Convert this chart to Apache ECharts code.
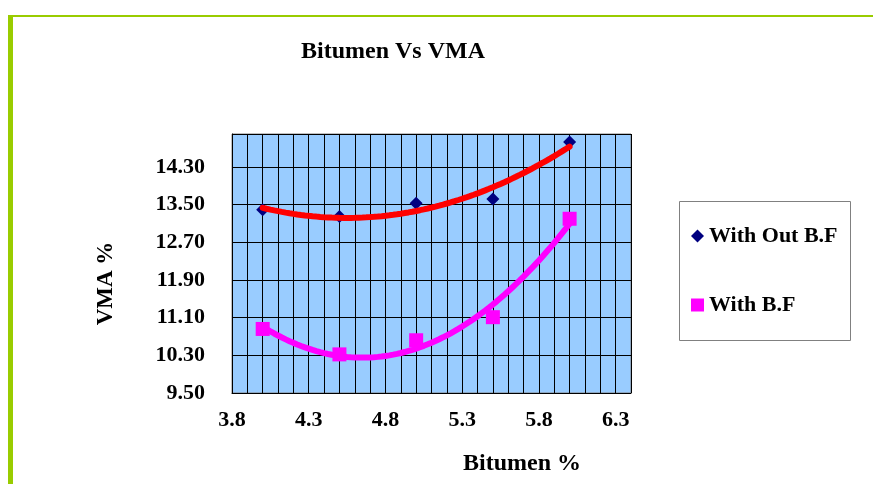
<!DOCTYPE html>
<html>
<head>
<meta charset="utf-8">
<script src="https://cdn.jsdelivr.net/npm/echarts@6/dist/echarts.min.js"></script>
<style>
  html, body { margin: 0; padding: 0; background: #fff; }
  #chart { width: 873px; height: 484px; }
</style>
</head>
<body>
<div id="chart"></div>
<script>
// Bitumen content (%) and measured VMA (%)
const bitumen = [4.0, 4.5, 5.0, 5.5, 6.0];
const vmaWithoutBF = [13.39, 13.25, 13.53, 13.62, 14.83];
const vmaWithBF = [10.86, 10.32, 10.62, 11.11, 13.20];
const seriesNames = ['With Out B.F', 'With B.F'];

// Labelled ticks on each axis
const xTickLabels = [3.8, 4.3, 4.8, 5.3, 5.8, 6.3];
const yTickLabels = [9.5, 10.3, 11.1, 11.9, 12.7, 13.5, 14.3];

const FONT = "'Liberation Serif', 'Times New Roman', serif";

// Second-order polynomial least-squares trendline through the measured points
function quadraticFit(xs, ys) {
  const n = xs.length;
  const mx = xs.reduce((s, v) => s + v, 0) / n;
  const S = [0, 0, 0, 0, 0], T = [0, 0, 0];
  for (let i = 0; i < n; i++) {
    const t = xs[i] - mx;
    for (let k = 0; k <= 4; k++) S[k] += Math.pow(t, k);
    for (let k = 0; k <= 2; k++) T[k] += ys[i] * Math.pow(t, k);
  }
  const A = [[S[0], S[1], S[2], T[0]], [S[1], S[2], S[3], T[1]], [S[2], S[3], S[4], T[2]]];
  for (let c = 0; c < 3; c++) {
    for (let r = c + 1; r < 3; r++) {
      const f = A[r][c] / A[c][c];
      for (let k = c; k < 4; k++) A[r][k] -= f * A[c][k];
    }
  }
  const coef = [0, 0, 0];
  for (let r = 2; r >= 0; r--) {
    let s = A[r][3];
    for (let k = r + 1; k < 3; k++) s -= A[r][k] * coef[k];
    coef[r] = s / A[r][r];
  }
  return x => { const t = x - mx; return coef[0] + coef[1] * t + coef[2] * t * t; };
}

function trendPoints(xs, ys) {
  const f = quadraticFit(xs, ys);
  const x0 = xs[0], x1 = xs[xs.length - 1], steps = 80;
  const pts = [];
  for (let i = 0; i <= steps; i++) {
    const x = x0 + (x1 - x0) * i / steps;
    pts.push([x, f(x)]);
  }
  return pts;
}

const isLabelled = (list, v) => list.some(t => Math.abs(t - v) < 1e-6);

const chart = echarts.init(document.getElementById('chart'), null, { renderer: 'canvas' });

chart.setOption({
  animation: false,
  backgroundColor: '#ffffff',
  title: {
    text: 'Bitumen Vs VMA',
    left: 301,
    top: 40,
    padding: 0,
    textStyle: { fontFamily: FONT, fontWeight: 'bold', fontSize: 24, color: '#000' }
  },
  graphic: [
    { type: 'rect', shape: { x: 8, y: 15, width: 5, height: 480 }, style: { fill: '#99CC00' }, silent: true },
    { type: 'rect', shape: { x: 8, y: 15, width: 870, height: 2 }, style: { fill: '#99CC00' }, silent: true },
    { type: 'rect', shape: { x: 679.5, y: 201.5, width: 171, height: 139 }, style: { fill: '#fff', stroke: '#808080', lineWidth: 1 }, silent: true, z: -1 }
  ],
  legend: {
    data: seriesNames,
    orient: 'vertical',
    left: 691,
    top: 224,
    padding: 0,
    itemWidth: 13,
    itemHeight: 13,
    itemGap: 45,
    textStyle: { fontFamily: FONT, fontWeight: 'bold', fontSize: 22, color: '#000', lineHeight: 24 }
  },
  grid: {
    left: 232, top: 134, width: 399, height: 259,
    show: true,
    backgroundColor: '#99CCFF',
    borderColor: '#808080',
    borderWidth: 1
  },
  xAxis: {
    type: 'value',
    min: 3.8,
    max: 6.4,
    interval: 0.1,
    name: 'Bitumen %',
    nameLocation: 'middle',
    nameGap: 59,
    nameTextStyle: { fontFamily: FONT, fontWeight: 'bold', fontSize: 24, color: '#000', padding: [0, 0, 0, 181] },
    axisLine: { show: true, lineStyle: { color: '#000', width: 1 } },
    axisTick: { show: false },
    splitLine: { show: true, lineStyle: { color: '#000', width: 1 } },
    axisLabel: {
      margin: 16,
      fontFamily: FONT, fontWeight: 'bold', fontSize: 22, color: '#000',
      formatter: v => isLabelled(xTickLabels, v) ? v.toFixed(1) : ''
    }
  },
  yAxis: {
    type: 'value',
    min: 9.5,
    max: 15.0,
    interval: 0.8,
    name: 'VMA %',
    nameLocation: 'middle',
    nameRotate: 90,
    nameGap: 114,
    nameTextStyle: { fontFamily: FONT, fontWeight: 'bold', fontSize: 23, color: '#000', padding: [0, 40, 0, 0] },
    axisLine: { show: true, lineStyle: { color: '#000', width: 1 } },
    axisTick: { show: false },
    splitLine: { show: true, lineStyle: { color: '#000', width: 1 } },
    axisLabel: {
      margin: 27,
      fontFamily: FONT, fontWeight: 'bold', fontSize: 22, color: '#000',
      formatter: v => isLabelled(yTickLabels, v) ? v.toFixed(2) : ''
    }
  },
  series: [
    {
      name: seriesNames[0],
      type: 'scatter',
      symbol: 'diamond',
      symbolSize: 13,
      itemStyle: { color: '#000080', opacity: 1 },
      data: bitumen.map((x, i) => [x, vmaWithoutBF[i]]),
      z: 2
    },
    {
      name: seriesNames[1],
      type: 'scatter',
      symbol: 'rect',
      symbolSize: 14,
      itemStyle: { color: '#FF00FF', opacity: 1 },
      data: bitumen.map((x, i) => [x, vmaWithBF[i]]),
      z: 2
    },
    {
      name: 'trend-without',
      type: 'line',
      showSymbol: false,
      silent: true,
      lineStyle: { color: '#FF0000', width: 6, cap: 'round' },
      data: trendPoints(bitumen, vmaWithoutBF),
      z: 3
    },
    {
      name: 'trend-with',
      type: 'line',
      showSymbol: false,
      silent: true,
      lineStyle: { color: '#FF00FF', width: 6, cap: 'round' },
      data: trendPoints(bitumen, vmaWithBF),
      z: 3
    }
  ]
});
</script>
</body>
</html>
